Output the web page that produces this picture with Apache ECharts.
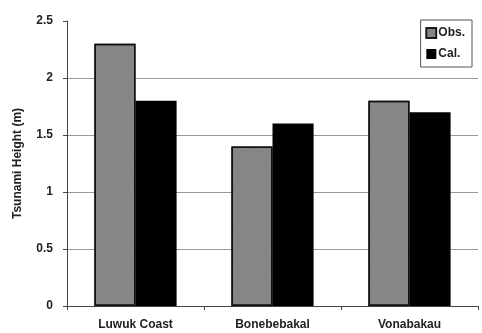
<!DOCTYPE html>
<html><head><meta charset="utf-8">
<script src="https://cdn.jsdelivr.net/npm/echarts@6/dist/echarts.min.js"></script>
<style>html,body{margin:0;padding:0;background:#fff}#c{width:482px;height:333px}</style>
</head><body><div id="c"></div>
<script>
const categories = ['Luwuk Coast', 'Bonebebakal', 'Vonabakau'];
const obsValues = [2.3, 1.4, 1.8];
const calValues = [1.8, 1.6, 1.7];
const yTicks = [0, 0.5, 1, 1.5, 2, 2.5];

const chart = echarts.init(document.getElementById('c'));
const font = 'Liberation Sans, Arial, sans-serif';
chart.setOption({
  animation: false,
  backgroundColor: '#fff',
  grid: {left: 67, right: 4, top: 21, bottom: 27},
  legend: {
    right: 10, top: 20, orient: 'vertical',
    icon: 'rect',
    itemWidth: 10, itemHeight: 10, itemGap: 9,
    padding: [7, 7, 7, 5],
    borderColor: '#555', borderWidth: 1,
    textStyle: {fontFamily: font, fontSize: 12, fontWeight: 'bold', color: '#222', padding: [0, 0, 0, -3]},
    data: [{name: 'Obs.', itemStyle: {color: '#888', borderColor: '#111', borderWidth: 1.5}}, {name: 'Cal.', itemStyle: {color: '#000'}}]
  },
  xAxis: {
    type: 'category', data: categories,
    axisLine: {lineStyle: {color: '#444', width: 1}},
    axisTick: {show: true, length: 4, lineStyle: {color: '#444'}},
    axisLabel: {fontFamily: font, fontSize: 12, fontWeight: 'bold', color: '#222', margin: 13}
  },
  yAxis: {
    type: 'value', min: 0, max: 2.5, interval: 0.5,
    name: 'Tsunami Height (m)', nameLocation: 'middle', nameGap: 43, nameRotate: 90,
    nameTextStyle: {fontFamily: font, fontSize: 12, fontWeight: 'bold', color: '#222'},
    axisLine: {show: true, lineStyle: {color: '#444'}},
    axisTick: {show: true, length: 4, lineStyle: {color: '#444'}},
    axisLabel: {fontFamily: font, fontSize: 12, fontWeight: 'bold', color: '#222', margin: 14,
      formatter: v => yTicks.includes(v) ? String(v) : ''},
    splitLine: {show: true, showMaxLine: false, lineStyle: {color: '#999', width: 1}}
  },
  series: [
    {name: 'Obs.', type: 'bar', data: obsValues, barGap: '0%', barCategoryGap: '40%',
     itemStyle: {color: '#8a8a8a', borderColor: '#111', borderWidth: 1.5,
       decal: {symbol: 'circle', symbolSize: 0.5, color: 'rgba(60,60,60,0.5)', dashArrayX: [2, 1], dashArrayY: [2, 1], rotation: 0.5}}},
    {name: 'Cal.', type: 'bar', data: calValues,
     itemStyle: {color: '#000'}}
  ],
  aria: {enabled: false, decal: {show: true}}
});
</script></body></html>
